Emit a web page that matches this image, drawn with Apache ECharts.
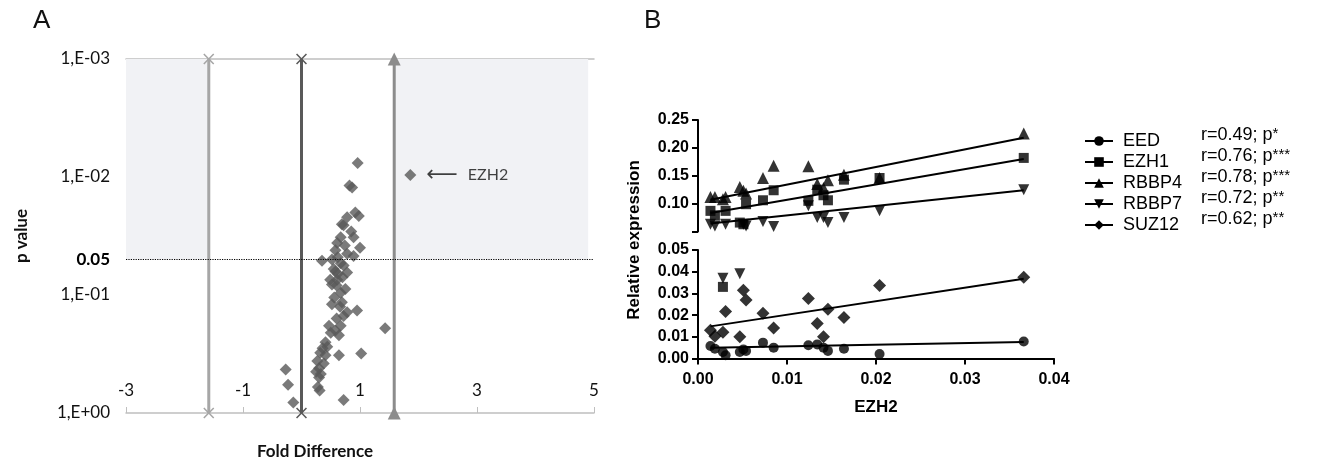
<!DOCTYPE html>
<html>
<head>
<meta charset="utf-8">
<script src="https://cdn.jsdelivr.net/npm/echarts@6/dist/echarts.min.js"></script>
<style>
  html, body { margin: 0; padding: 0; background: #fff; }
  #chart { width: 1343px; height: 465px; }
</style>
</head>
<body>
<div id="chart"></div>
<script>
// ---------- panel A: volcano-like plot ----------
const foldDiff = [0.96, 0.865, 0.82, 0.92, 0.98, 0.78, 0.72, 0.69, 0.89, 0.67, 0.61, 1.00, 0.58, 0.78, 0.89,
  0.35, 0.52, 0.67, 0.58, 0.78, 0.49, 0.61, 0.52, 0.67, 0.52, 0.69, 0.95, 0.78, 0.47, 0.67, 0.64, 1.43,
  0.41, 0.32, 0.41, 0.64, 1.02, 0.27, 0.38, 0.30, 0.30, -0.27, -0.23, -0.14, 0.31, 0.72,
  0.62, 0.72, 0.55, 0.70, 0.60, 0.75, 0.56, 0.66, 0.60, 0.72, 0.50, 0.58, 0.44, 0.36, 0.25, 0.33, 0.28,
  0.62, 0.85, 0.74]
const pValue = [0.0076, 0.0123, 0.0118, 0.0200, 0.0214, 0.0219, 0.0257, 0.0251, 0.0324, 0.0324, 0.0363, 0.0398, 0.0417, 0.0447, 0.0468,
  0.0513, 0.0501, 0.0537, 0.0631, 0.0646, 0.0741, 0.0741, 0.0813, 0.0955, 0.120, 0.115, 0.135, 0.140, 0.182, 0.182, 0.219, 0.191,
  0.251, 0.309, 0.324, 0.324, 0.313, 0.363, 0.380, 0.417, 0.501, 0.427, 0.575, 0.813, 0.646, 0.776,
  0.0479, 0.0562, 0.0603, 0.0708, 0.0832, 0.0891, 0.105, 0.126, 0.158, 0.151, 0.209, 0.200, 0.275, 0.282, 0.447, 0.468, 0.603,
  0.066, 0.0290, 0.0380]
const ezh2Point = [1.86, 0.0096]
const thresholdX = [-1.585, 0, 1.585]
const thresholdColors = ['#a6a6a6', '#595959', '#8c8c8c']
const shadeLeftX = [-3, -1.585]
const shadeRightX = [1.585, 4.9]
const shadeP = [0.001, 0.05]
const pCut = 0.05

// ---------- panel B: correlation with EZH2 ----------
const ezh2 = [0.0014, 0.0019, 0.0028, 0.0031, 0.0047, 0.0051, 0.0054, 0.0073, 0.0085, 0.0124, 0.0134, 0.0141, 0.0146, 0.0164, 0.0204, 0.0366]
const eed   = [0.0058, 0.0045, 0.0030, 0.0015, 0.0030, 0.0042, 0.0035, 0.0073, 0.0050, 0.0061, 0.0065, 0.0050, 0.0035, 0.0045, 0.0021, 0.0078]
const ezh1  = [0.087, 0.079, 0.033, 0.087, 0.066, 0.063, 0.099, 0.106, 0.124, 0.105, 0.125, 0.115, 0.106, 0.143, 0.146, 0.182]
const rbbp4 = [0.112, 0.112, 0.108, 0.112, 0.130, 0.123, 0.118, 0.146, 0.168, 0.167, 0.135, 0.128, 0.142, 0.152, 0.146, 0.226]
const rbbp7 = [0.063, 0.060, 0.037, 0.063, 0.039, 0.063, 0.060, 0.068, 0.059, 0.096, 0.075, 0.075, 0.066, 0.075, 0.087, 0.125]
const suz12 = [0.0130, 0.0103, 0.0121, 0.0217, 0.0100, 0.0315, 0.0270, 0.0209, 0.0141, 0.0277, 0.0161, 0.0100, 0.0227, 0.0189, 0.0336, 0.0374]

// fitted lines (start, end)
const fitEED   = [[0.0014, 0.0049], [0.0366, 0.0076]]
const fitEZH1  = [[0.0014, 0.083], [0.0366, 0.180]]
const fitRBBP4 = [[0.0014, 0.107], [0.0366, 0.218]]
const fitRBBP7 = [[0.0014, 0.0645], [0.0366, 0.124]]
const fitSUZ12 = [[0.0014, 0.0148], [0.0366, 0.0368]]

const geneNames = ['EED', 'EZH1', 'RBBP4', 'RBBP7', 'SUZ12']
const rValues = ['0.49', '0.76', '0.78', '0.72', '0.62']
const pStars = ['*', '***', '***', '**', '**']
const breakAt = 0.05

const triDown = 'path://M0,0L10,0L5,9Z'
const crossMark = 'path://M0,1L1,0L5,4L9,0L10,1L6,5L10,9L9,10L5,6L1,10L0,9L4,5Z'

const fontA = 'Lato'
const fontB = 'Liberation Sans'

const chart = echarts.init(document.getElementById('chart'))

const geneSeries = (name, values, fit, symbol, size) => {
    const pts = ezh2.map((x, i) => [x, values[i]])
    const upper = pts.filter(p => p[1] >= breakAt)
    const lower = pts.filter(p => p[1] < breakAt)
    const fitUpper = fit[0][1] >= breakAt
    return [
        {
            name: name, type: 'line', data: fit,
            xAxisIndex: fitUpper ? 2 : 3, yAxisIndex: fitUpper ? 1 : 2,
            symbol: symbol, symbolSize: size, showSymbol: false,
            lineStyle: { color: '#000', width: 2 }, itemStyle: { color: '#000' },
            z: 3, silent: true
        },
        {
            name: name, type: 'scatter', data: upper, xAxisIndex: 2, yAxisIndex: 1,
            symbol: symbol, symbolSize: size, itemStyle: { color: '#000' }, z: 4
        },
        {
            name: name, type: 'scatter', data: lower, xAxisIndex: 3, yAxisIndex: 2,
            symbol: symbol, symbolSize: size, itemStyle: { color: '#000' }, z: 4
        }
    ]
}

const expFormat = (v) => {
    const e = Math.round(Math.log10(v))
    return '1,E' + (e < 0 ? '-' : '+') + String(Math.abs(e)).padStart(2, '0')
}

const bLabel = { fontFamily: fontB, fontWeight: 'bold', fontSize: 16, color: '#000' }

const option = {
    animation: false,
    backgroundColor: '#fff',
    graphic: [
        { type: 'text', left: 33, top: 8, style: { text: 'A', font: '26px Liberation Sans', fill: '#111' } },
        { type: 'text', left: 644, top: 8, style: { text: 'B', font: '26px Liberation Sans', fill: '#111' } },
        {
            type: 'text', x: 634, y: 240, rotation: Math.PI / 2,
            style: { text: 'Relative expression', font: 'bold 17px Liberation Sans', fill: '#000', align: 'center', verticalAlign: 'middle' }
        }
    ],
    grid: [
        { left: 126, top: 59, width: 468, height: 360 },
        { left: 698, top: 120, width: 356, height: 111.5 },
        { left: 698, top: 250, width: 356, height: 108.5 }
    ],
    xAxis: [
        {
            gridIndex: 0, type: 'value', min: -3, max: 5, interval: 2,
            name: 'Fold Difference', nameLocation: 'middle', nameGap: 30,
            nameTextStyle: { fontFamily: fontA, fontWeight: 'bold', fontSize: 17, color: '#111', padding: [0, 90, 0, 0] },
            axisLine: { lineStyle: { color: '#bfbfbf', width: 1.5 } },
            axisTick: { inside: true, length: 6, lineStyle: { color: '#bfbfbf' } },
            axisLabel: { inside: true, margin: 14, fontFamily: fontA, fontSize: 17, color: '#111' },
            splitLine: { show: false }
        },
        {
            gridIndex: 0, type: 'value', min: -3, max: 5, position: 'top',
            axisLine: { show: true, lineStyle: { color: '#bfbfbf', width: 1.5 } },
            axisTick: { show: false }, axisLabel: { show: false }, splitLine: { show: false }
        },
        { gridIndex: 1, type: 'value', min: 0, max: 0.04, show: false },
        {
            gridIndex: 2, type: 'value', min: 0, max: 0.04, interval: 0.01,
            name: 'EZH2', nameLocation: 'middle', nameGap: 40,
            nameTextStyle: { fontFamily: fontB, fontWeight: 'bold', fontSize: 17, color: '#000' },
            axisLine: { lineStyle: { color: '#000', width: 2 } },
            axisTick: { length: 6, lineStyle: { color: '#000', width: 2 } },
            axisLabel: Object.assign({ margin: 13, formatter: v => v.toFixed(2) }, bLabel),
            splitLine: { show: false }
        }
    ],
    yAxis: [
        {
            gridIndex: 0, type: 'log', logBase: 10, min: 0.001, max: 1, inverse: true,
            name: 'p value', nameLocation: 'middle', nameGap: 96,
            nameTextStyle: { fontFamily: fontA, fontWeight: 'bold', fontSize: 17, color: '#111' },
            axisLine: { show: false }, axisTick: { show: false }, splitLine: { show: false },
            axisLabel: { margin: 16, fontFamily: fontA, fontSize: 17, color: '#111', formatter: expFormat }
        },
        {
            gridIndex: 1, type: 'value', min: 0.05, max: 0.25, interval: 0.05,
            axisLine: { show: true, lineStyle: { color: '#000', width: 2 } },
            axisTick: { show: true, length: 6, lineStyle: { color: '#000', width: 2 } },
            axisLabel: Object.assign({ margin: 9, formatter: v => (v < 0.06 ? '' : v.toFixed(2)) }, bLabel),
            splitLine: { show: false }
        },
        {
            gridIndex: 2, type: 'value', min: 0, max: 0.05, interval: 0.01,
            axisLine: { show: true, lineStyle: { color: '#000', width: 2 } },
            axisTick: { show: true, length: 6, lineStyle: { color: '#000', width: 2 } },
            axisLabel: Object.assign({ margin: 9, formatter: v => v.toFixed(2) }, bLabel),
            splitLine: { show: false }
        }
    ],
    legend: [
        {
            data: geneNames, orient: 'vertical', left: 1079, top: 127,
            itemWidth: 28, itemHeight: 12, itemGap: 3, selectedMode: false,
            textStyle: { fontFamily: fontB, fontSize: 18, color: '#000', padding: [0, 0, 0, 5] }
        },
        {
            data: geneNames, orient: 'vertical', left: 1190, top: 121,
            itemWidth: 0, itemHeight: 0, itemGap: 3, selectedMode: false,
            formatter: name => {
                const i = geneNames.indexOf(name)
                return '{r|r=' + rValues[i] + '; p}{s|' + pStars[i] + '}'
            },
            textStyle: {
                rich: {
                    r: { fontFamily: fontB, fontSize: 18, color: '#000', lineHeight: 18 },
                    s: { fontFamily: fontB, fontSize: 15, color: '#000', verticalAlign: 'top', lineHeight: 18 }
                }
            }
        }
    ],
    series: [
        {
            type: 'scatter', xAxisIndex: 0, yAxisIndex: 0,
            data: foldDiff.map((x, i) => [x, pValue[i]]),
            symbol: 'diamond', symbolSize: 12, itemStyle: { color: '#595959' }, z: 4,
            markArea: {
                silent: true, itemStyle: { color: '#f1f2f5' },
                data: [
                    [{ xAxis: shadeLeftX[0], yAxis: shadeP[0] }, { xAxis: shadeLeftX[1], yAxis: shadeP[1] }],
                    [{ xAxis: shadeRightX[0], yAxis: shadeP[0] }, { xAxis: shadeRightX[1], yAxis: shadeP[1] }]
                ]
            },
            markLine: {
                silent: true, symbol: 'none',
                lineStyle: { color: '#000', type: 'dotted', width: 1.2 },
                label: { show: true, position: 'start', distance: 16, formatter: '0.05', fontFamily: fontA, fontWeight: 'bold', fontSize: 17, color: '#000' },
                data: [{ yAxis: pCut }]
            }
        },
        ...thresholdX.map((x, i) => ({
            type: 'line', xAxisIndex: 0, yAxisIndex: 0,
            data: [[x, 0.001], [x, 1]],
            symbol: i === 2 ? 'triangle' : crossMark,
            symbolSize: i === 2 ? 13 : 11,
            lineStyle: { color: thresholdColors[i], width: 3 },
            itemStyle: { color: thresholdColors[i] }, z: 3, silent: true
        })),
        {
            type: 'scatter', xAxisIndex: 0, yAxisIndex: 0, data: [ezh2Point],
            symbol: 'diamond', symbolSize: 12, itemStyle: { color: '#595959' }, z: 5,
            label: {
                show: true, position: 'right', distance: 10,
                formatter: '{a|\u27f5}   {t|EZH2}',
                rich: {
                    a: { fontFamily: 'DejaVu Sans', fontSize: 22, color: '#111' },
                    t: { fontFamily: fontA, fontSize: 16, color: '#111' }
                }
            }
        },
        ...geneSeries('EED', eed, fitEED, 'circle', 10),
        ...geneSeries('EZH1', ezh1, fitEZH1, 'rect', 10),
        ...geneSeries('RBBP4', rbbp4, fitRBBP4, 'triangle', 12),
        ...geneSeries('RBBP7', rbbp7, fitRBBP7, triDown, 11),
        ...geneSeries('SUZ12', suz12, fitSUZ12, 'diamond', 13)
    ]
}

chart.setOption(option)
</script>
</body>
</html>
